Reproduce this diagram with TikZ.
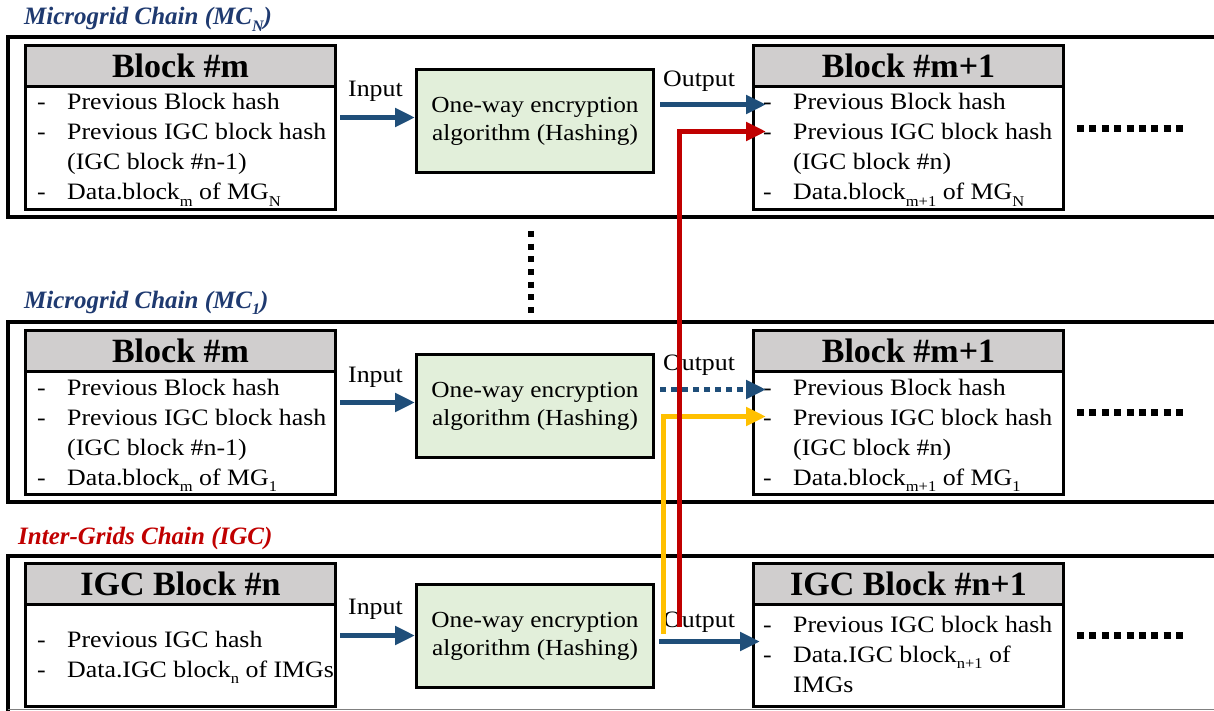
\documentclass[tikz,border=0pt]{standalone}
\usepackage{fontspec}
\setmainfont{Liberation Serif}[FakeStretch=1.1]
\newfontfamily\hdfont{Liberation Serif}
\usetikzlibrary{arrows.meta,calc}

\definecolor{navy}{HTML}{1F3A70}
\definecolor{arrowblue}{HTML}{1F4E79}
\definecolor{igcred}{HTML}{C00000}
\definecolor{gold}{HTML}{FFC000}
\definecolor{hashgreen}{HTML}{E2EFDA}
\definecolor{hdrgray}{HTML}{D0CECE}

% lowered index in body text and in titles
\newcommand\lowsub[1]{\raisebox{-0.28em}{\fontsize{15}{15}\selectfont #1}}
\newcommand\ttlsub[1]{\raisebox{-0.25em}{\fontsize{16}{16}\selectfont #1}}

% one bullet line of a block: dash + text
\newcommand\entry[4]{%
  \node[txt] (#1d) at (#2,#3) {-};
  \node[txt] (#1t) at (#2+30,#3) {#4};}

\tikzset{
  frame/.style={line width=4pt},
  blk/.style={draw, line width=3pt, fill=white, inner sep=0pt,
    minimum width=310pt, minimum height=164pt, anchor=north west},
  blklow/.style={blk, minimum height=143pt},
  hdr/.style={draw, line width=3pt, fill=hdrgray, inner sep=0pt,
    minimum width=310pt, minimum height=41pt, anchor=north west,
    font=\hdfont\bfseries\fontsize{34}{34}\selectfont},
  hashbox/.style={draw, line width=3pt, fill=hashgreen, inner sep=0pt,
    minimum width=237pt, minimum height=103pt, anchor=north west,
    align=center, font=\fontsize{23}{28}\selectfont},
  txt/.style={anchor=base west, inner sep=0pt, font=\fontsize{23.5}{23.5}\selectfont},
  ttl/.style={anchor=base west, inner sep=0pt,
    font=\hdfont\bfseries\itshape\fontsize{25}{25}\selectfont},
  flow/.style={draw=arrowblue, line width=5pt, -{Triangle[length=20pt,width=18pt]}},
  feed/.style={line width=5pt, -{Triangle[length=20pt,width=18pt]}},
  hdots/.style={line width=7pt, dash pattern=on 7pt off 5.375pt},
  vdots/.style={line width=6pt, dash pattern=on 6pt off 6.67pt},
}

\begin{document}
\begin{tikzpicture}[x=1pt,y=-1pt]
\useasboundingbox (0,0) rectangle (1214,711);
\clip (0,0) rectangle (1214,711);

% ---------- chain frames ----------
\draw[frame] (1220,37) -| (8,217) -- (1220,217);
\draw[frame] (1220,322) -| (8,502) -- (1220,502);
\draw[frame] (1220,556) -| (8,715);
\draw[gray, line width=1.5pt] (8,709.5) -- (1220,709.5);

% ---------- titles ----------
\node[ttl, text=navy] (ttlN) at (24,25) {Microgrid Chain (MC\ttlsub{N})};
\node[ttl, text=navy] (ttl1) at (24,308) {Microgrid Chain (MC\ttlsub{1})};
\node[ttl, text=igcred] (ttlI) at (18,544) {Inter-Grids Chain (IGC)};

% ---------- microgrid chain N ----------
\node[blk] (bm) at (24,44) {};
\node[hdr] (bmh) at (24,44) {Block \#m};
\entry{a1}{37}{110}{Previous Block hash}
\entry{a2}{37}{140}{Previous IGC block hash}
\node[txt] (a3t) at (67,170) {(IGC block \#n-1)};
\entry{a4}{37}{200}{Data.block\lowsub{m} of MG\lowsub{N}}

\node[hashbox] (hA) at (415,68) {One-way encryption\\algorithm (Hashing)};

\node[blk] (bm1) at (752,44) {};
\node[hdr] (bm1h) at (752,44) {Block \#m+1};
\entry{b1}{763}{110}{Previous Block hash}
\entry{b2}{763}{140}{Previous IGC block hash}
\node[txt] (b3t) at (793,170) {(IGC block \#n)};
\entry{b4}{763}{200}{Data.block\lowsub{m+1} of MG\lowsub{N}}

\node[txt] (inA) at (348,97) {Input};
\node[txt] (outA) at (663,87) {Output};

% ---------- microgrid chain 1 ----------
\node[blk] (bmM) at (24,329) {};
\node[hdr] (bmMh) at (24,329) {Block \#m};
\entry{c1}{37}{395}{Previous Block hash}
\entry{c2}{37}{425}{Previous IGC block hash}
\node[txt] (c3t) at (67,455) {(IGC block \#n-1)};
\entry{c4}{37}{485}{Data.block\lowsub{m} of MG\lowsub{1}}

\node[hashbox] (hB) at (415,353) {One-way encryption\\algorithm (Hashing)};

\node[blk] (bm1M) at (752,329) {};
\node[hdr] (bm1Mh) at (752,329) {Block \#m+1};
\entry{d1}{763}{395}{Previous Block hash}
\entry{d2}{763}{425}{Previous IGC block hash}
\node[txt] (d3t) at (793,455) {(IGC block \#n)};
\entry{d4}{763}{485}{Data.block\lowsub{m+1} of MG\lowsub{1}}

\node[txt] (inB) at (348,382) {Input};
\node[txt] (outB) at (663,370) {Output};

% ---------- inter-grids chain ----------
\node[blklow] (bn) at (24,562) {};
\node[hdr] (bnh) at (24,562) {IGC Block \#n};
\entry{e1}{37}{647}{Previous IGC hash}
\entry{e2}{37}{677}{Data.IGC block\lowsub{n} of IMGs}

\node[hashbox] (hC) at (415,583) {One-way encryption\\algorithm (Hashing)};

\node[blklow] (bn1) at (752,562) {};
\node[hdr] (bn1h) at (752,562) {IGC Block \#n+1};
\entry{f1}{763}{632}{Previous IGC block hash}
\entry{f2}{763}{662}{Data.IGC block\lowsub{n+1} of}
\node[txt] (f3t) at (793,692) {IMGs};

\node[txt] (inC) at (348,614) {Input};
\node[txt] (outC) at (663,627) {Output};

% ---------- continuation dots ----------
\draw[vdots] (531,231) -- (531,313);
\draw[hdots] (1077,129) -- (1183,129);
\draw[hdots] (1077,412) -- (1183,412);
\draw[hdots] (1077,635) -- (1183,635);

% ---------- hashing flow ----------
\draw[flow] ($(bm.east)+(3,-10)$) -- ($(hA.west)+(0,-3.5)$);
\draw[flow] ($(hA.east)+(5,-16.5)$) -- ($(bm1.west)+(14,-23)$);
\draw[flow] ($(bmM.east)+(3,-10)$) -- ($(hB.west)+(0,-3.5)$);
\draw[flow, dash pattern=on 6pt off 5pt] ($(hB.east)+(5,-16.5)$) -- ($(bm1M.west)+(14,-23)$);
\draw[flow] ($(bn.east)+(3,0.5)$) -- ($(hC.west)+(0,-0.5)$);
\draw[flow] ($(hC.east)+(4,5.5)$) -- ($(bn1.west)+(8,6.5)$);

% ---------- IGC hash fed into both microgrid chains ----------
\draw[feed, draw=gold] ($(hC.east)+(8,-2.5)$) |- ($(bm1M.west)+(14,4)$);
\draw[feed, draw=igcred] ($(hC.east)+(24,-9.5)$) |- ($(bm1.west)+(14,4)$);
\end{tikzpicture}
\end{document}
